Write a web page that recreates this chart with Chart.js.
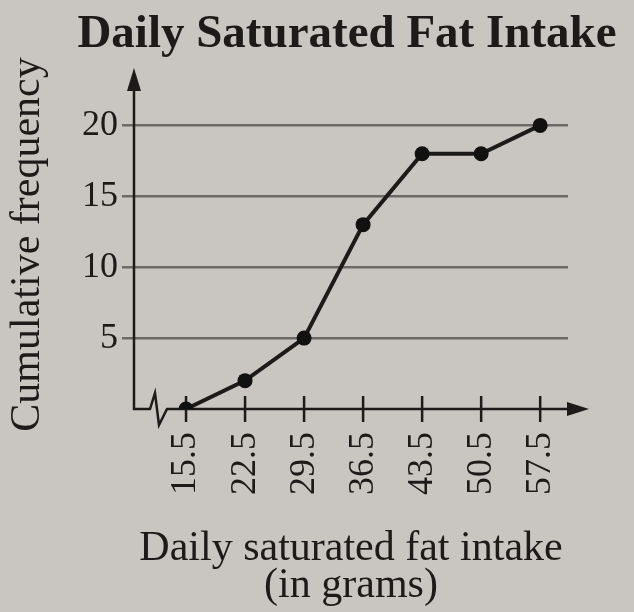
<!DOCTYPE html>
<html>
<head>
<meta charset="utf-8">
<script src="https://cdn.jsdelivr.net/npm/chart.js@4/dist/chart.umd.min.js"></script>
<style>
    html, body { margin: 0; padding: 0; background: #c9c6c2; }
    #wrap { width: 634px; height: 612px; }
</style>
</head>
<body>
<div id="wrap"><canvas id="graph"></canvas></div>
<script>
// class boundaries (grams) and cumulative frequency
const boundaries = [15.5, 22.5, 29.5, 36.5, 43.5, 50.5, 57.5];
const cum_freq = [0, 2, 5, 13, 18, 18, 20];
const y_ticks = [5, 10, 15, 20];
const chart_title = 'Daily Saturated Fat Intake';

const ink = '#1c1b1a';
const grid_gray = '#6c6a67';
const serif = '"Liberation Serif", "DejaVu Serif", serif';

// the title sits off-centre in the original, so it is drawn here
// (the built-in title squeezes it to the box width)
const title_text = {
    id: 'title_text',
    afterDraw(chart) {
        const { ctx, chartArea: a } = chart;
        ctx.save();
        ctx.fillStyle = ink;
        ctx.font = 'bold 47px ' + serif;
        ctx.textAlign = 'center';
        ctx.textBaseline = 'alphabetic';
        ctx.fillText(chart_title, (a.left + a.right) / 2 - 4, 47);
        ctx.restore();
    }
};

// axes with arrows, the broken-axis zigzag and the small x tick marks
const axis_decor = {
    id: 'axis_decor',
    beforeDatasetsDraw(chart) {
        const { ctx, chartArea: a, scales } = chart;
        const x0 = a.left;
        const y0 = scales.y.getPixelForValue(0);
        ctx.save();
        ctx.strokeStyle = ink;
        ctx.fillStyle = ink;
        ctx.lineWidth = 2.5;
        ctx.beginPath();
        ctx.moveTo(x0, a.top + 10);
        ctx.lineTo(x0, y0);
        ctx.lineTo(x0 + 16, y0);
        ctx.lineTo(x0 + 21, y0 - 16);
        ctx.lineTo(x0 + 25, y0 + 16);
        ctx.lineTo(x0 + 33, y0);
        ctx.lineTo(a.right + 2, y0);
        for (const v of boundaries) {
            const px = scales.x.getPixelForValue(v);
            ctx.moveTo(px, y0 - 13);
            ctx.lineTo(px, y0 + 13);
        }
        ctx.stroke();
        // arrow heads
        ctx.beginPath();
        ctx.moveTo(x0, a.top - 12);
        ctx.lineTo(x0 - 7, a.top + 11);
        ctx.lineTo(x0 + 7, a.top + 11);
        ctx.closePath();
        ctx.fill();
        ctx.beginPath();
        ctx.moveTo(a.right + 21, y0);
        ctx.lineTo(a.right - 1, y0 - 7);
        ctx.lineTo(a.right - 1, y0 + 7);
        ctx.closePath();
        ctx.fill();
        ctx.restore();
    }
};

const points_data = boundaries.map((b, i) => ({ x: b, y: cum_freq[i] }));

const config = {
    type: 'line',
    data: {
        datasets: [{
            data: points_data,
            borderColor: ink,
            backgroundColor: ink,
            borderWidth: 4,
            pointRadius: 7.5,
            pointBackgroundColor: '#111',
            pointBorderWidth: 0,
            tension: 0
        }]
    },
    options: {
        responsive: true,
        maintainAspectRatio: false,
        animation: false,
        layout: { padding: { left: 0, right: 66, top: 80, bottom: 0 } },
        plugins: {
            legend: { display: false },
            tooltip: { enabled: false },
            title: { display: false }
        },
        scales: {
            x: {
                type: 'linear',
                min: 9.33,
                max: 60.8,
                afterBuildTicks: s => { s.ticks = boundaries.map(v => ({ value: v })); },
                afterFit: s => { s.height = 203; },
                grid: { display: false, drawTicks: false },
                border: { display: false },
                ticks: {
                    autoSkip: false,
                    minRotation: 90,
                    maxRotation: 90,
                    padding: 23,
                    color: ink,
                    font: { family: serif, size: 36 },
                    callback: v => v.toFixed(1)
                },
                title: {
                    display: true,
                    text: ['Daily saturated fat intake', '(in grams)'],
                    color: ink,
                    font: { family: serif, size: 42, lineHeight: 0.88 },
                    padding: { top: 0, bottom: 8 }
                }
            },
            y: {
                min: 0,
                max: 23.2,
                afterBuildTicks: s => { s.ticks = y_ticks.map(v => ({ value: v })); },
                afterFit: s => { s.width = 134; },
                grid: { color: grid_gray, lineWidth: 2.5, drawTicks: true, tickLength: 12 },
                border: { display: false },
                ticks: {
                    padding: 4,
                    color: ink,
                    font: { family: serif, size: 36 }
                },
                title: {
                    display: true,
                    text: 'Cumulative frequency',
                    color: ink,
                    font: { family: serif, size: 42, lineHeight: 1.2 },
                    padding: { top: 3, bottom: 0 }
                }
            }
        }
    },
    plugins: [axis_decor, title_text]
};

new Chart(document.getElementById('graph'), config);
</script>
</body>
</html>
